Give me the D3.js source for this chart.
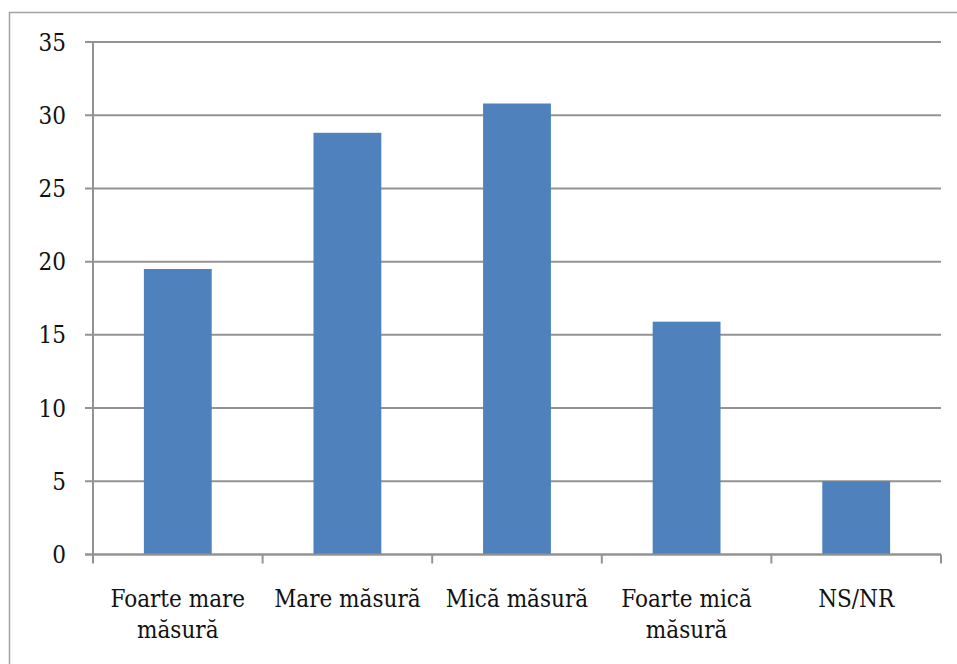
<!DOCTYPE html>
<html>
<head>
<meta charset="utf-8">
<script src="https://cdn.jsdelivr.net/npm/d3@7/dist/d3.min.js"></script>
<style>
  html, body { margin: 0; padding: 0; background: #fff; }
  svg { display: block; }
  text { font-family: "DejaVu Serif Condensed", "DejaVu Serif", serif; font-stretch: condensed; fill: #111; }
</style>
</head>
<body>
<svg id="chart" width="957" height="664"></svg>
<script>
// Bar chart: share of answers per category (percent)
const categories = [
  ["Foarte mare", "măsură"],
  ["Mare măsură"],
  ["Mică măsură"],
  ["Foarte mică", "măsură"],
  ["NS/NR"]
];
const values = [19.5, 28.8, 30.8, 15.9, 5.0];
const yTicks = [0, 5, 10, 15, 20, 25, 30, 35];

const svg = d3.select("#chart");
const W = 957, H = 664;
const plotLeft = 93, plotRight = 941, plotTop = 42, plotBottom = 554.5;
const fontSize = 24;

// Chart frame (extends past the bottom and right edges)
svg.append("rect")
  .attr("x", 9.5).attr("y", 12.5)
  .attr("width", W + 20).attr("height", H + 20)
  .attr("fill", "none")
  .attr("stroke", "#a3a3a3")
  .attr("stroke-width", 1.5);

const x = d3.scaleBand()
  .domain(d3.range(categories.length))
  .range([plotLeft, plotRight])
  .paddingInner(0.6)
  .paddingOuter(0.3);

const y = d3.scaleLinear().domain([0, 35]).range([plotBottom, plotTop]);

const gridColor = "#939393";

// Horizontal gridlines with y ticks
const gy = svg.append("g");
gy.selectAll("line.grid")
  .data(yTicks)
  .join("line")
  .attr("class", "grid")
  .attr("x1", plotLeft - 8).attr("x2", plotRight)
  .attr("y1", d => y(d)).attr("y2", d => y(d))
  .attr("stroke", gridColor)
  .attr("stroke-width", 2);

gy.selectAll("text")
  .data(yTicks)
  .join("text")
  .attr("x", 66)
  .attr("y", d => y(d))
  .attr("dy", "0.36em")
  .attr("text-anchor", "end")
  .attr("font-size", fontSize)
  .text(d => d);

// Bars
svg.append("g")
  .selectAll("rect")
  .data(values)
  .join("rect")
  .attr("x", (d, i) => x(i))
  .attr("width", x.bandwidth())
  .attr("y", d => y(d))
  .attr("height", d => y(0) - y(d))
  .attr("fill", "#4f81bd");

// Axis lines
svg.append("line")
  .attr("x1", plotLeft).attr("x2", plotLeft)
  .attr("y1", plotTop).attr("y2", plotBottom)
  .attr("stroke", gridColor).attr("stroke-width", 2);

svg.append("line")
  .attr("x1", plotLeft - 8).attr("x2", plotRight)
  .attr("y1", plotBottom).attr("y2", plotBottom)
  .attr("stroke", gridColor).attr("stroke-width", 2);

// Category boundary ticks
const step = x.step();
const bounds = d3.range(categories.length + 1).map(i => plotLeft + i * step);
svg.append("g")
  .selectAll("line")
  .data(bounds)
  .join("line")
  .attr("x1", d => d).attr("x2", d => d)
  .attr("y1", plotBottom).attr("y2", plotBottom + 9)
  .attr("stroke", gridColor).attr("stroke-width", 2);

// Category labels
const gx = svg.append("g");
categories.forEach((lines, i) => {
  const cx = x(i) + x.bandwidth() / 2;
  const t = gx.append("text")
    .attr("x", cx)
    .attr("y", 607)
    .attr("text-anchor", "middle")
    .attr("font-size", fontSize);
  lines.forEach((ln, k) => {
    t.append("tspan")
      .attr("x", cx)
      .attr("dy", k === 0 ? 0 : 31)
      .text(ln);
  });
});
</script>
</body>
</html>
